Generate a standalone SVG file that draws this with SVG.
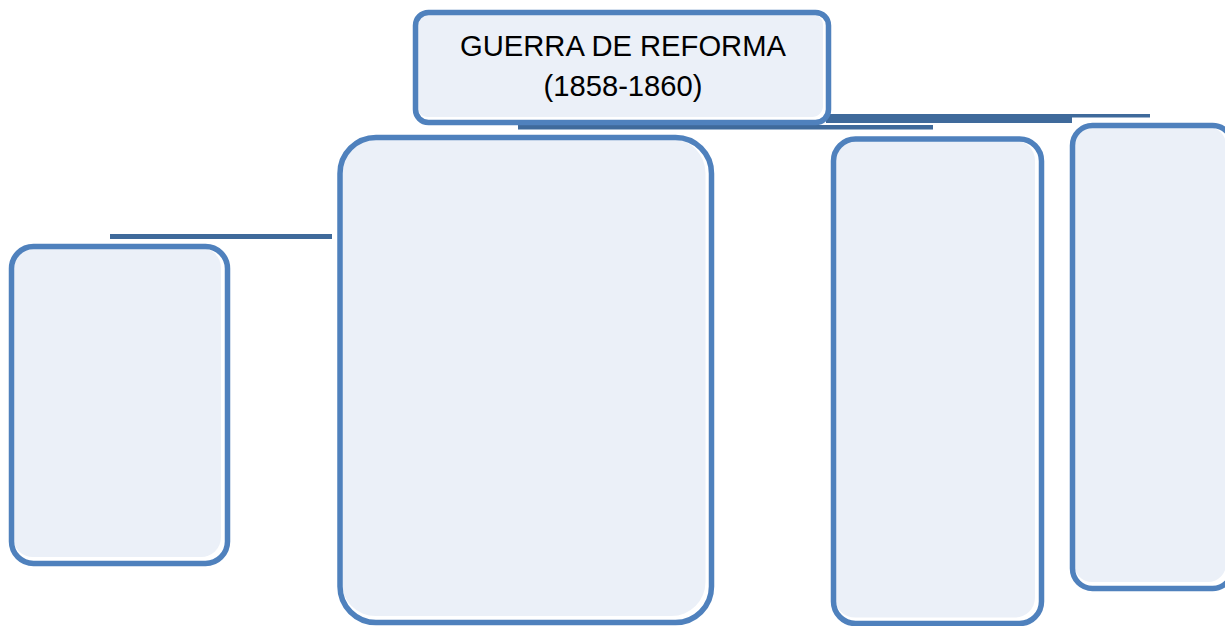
<svg xmlns="http://www.w3.org/2000/svg" width="1225" height="626" viewBox="0 0 1225 626">
<style>
.hl{fill:#ffffff}
.fill{fill:#ebf0f8}
.bd{fill:none;stroke:#4f81bd;stroke-width:5.5}
.conn{fill:#3f6a9b}
.t{font-family:"Liberation Sans",Arial,sans-serif;font-size:29.2px;fill:#000000;text-anchor:middle}
</style>
<rect width="1225" height="626" fill="#ffffff"/>
<g id="connectors">
<rect class="conn" x="110" y="234" width="222" height="5"/>
<rect class="conn" x="518" y="125" width="415" height="4.5"/>
<polygon class="conn" points="826,114 1150,114 1150,117.5 1072,117.5 1072,123 826,123"/>
</g>
<g id="n-top">
<rect class="hl" x="415.5" y="12.5" width="413" height="110" rx="13"/>
<rect class="fill" x="417" y="14" width="406" height="103" rx="11"/>
<rect class="bd" x="415.5" y="12.5" width="413" height="110" rx="13"/>
<text class="t" x="623" y="55.5">GUERRA DE REFORMA</text>
<text class="t" x="623" y="95.5">(1858-1860)</text>
</g>
<g id="n-left">
<rect class="hl" x="11.5" y="246.5" width="216" height="317" rx="22"/>
<rect class="fill" x="13" y="248" width="208" height="309" rx="20"/>
<rect class="bd" x="11.5" y="246.5" width="216" height="317" rx="22"/>
</g>
<g id="n-mid">
<rect class="hl" x="340" y="137.5" width="371.5" height="485" rx="36"/>
<rect class="fill" x="341.5" y="139" width="364" height="477" rx="34"/>
<rect class="bd" x="340" y="137.5" width="371.5" height="485" rx="36"/>
</g>
<g id="n-right1">
<rect class="hl" x="833.5" y="139" width="208" height="484.5" rx="22"/>
<rect class="fill" x="835" y="140.5" width="200" height="477" rx="20"/>
<rect class="bd" x="833.5" y="139" width="208" height="484.5" rx="22"/>
</g>
<g id="n-right2">
<rect class="hl" x="1072.5" y="125.5" width="160" height="463" rx="20"/>
<rect class="fill" x="1074" y="127" width="152" height="455" rx="18"/>
<rect class="bd" x="1072.5" y="125.5" width="160" height="463" rx="20"/>
</g>
</svg>
